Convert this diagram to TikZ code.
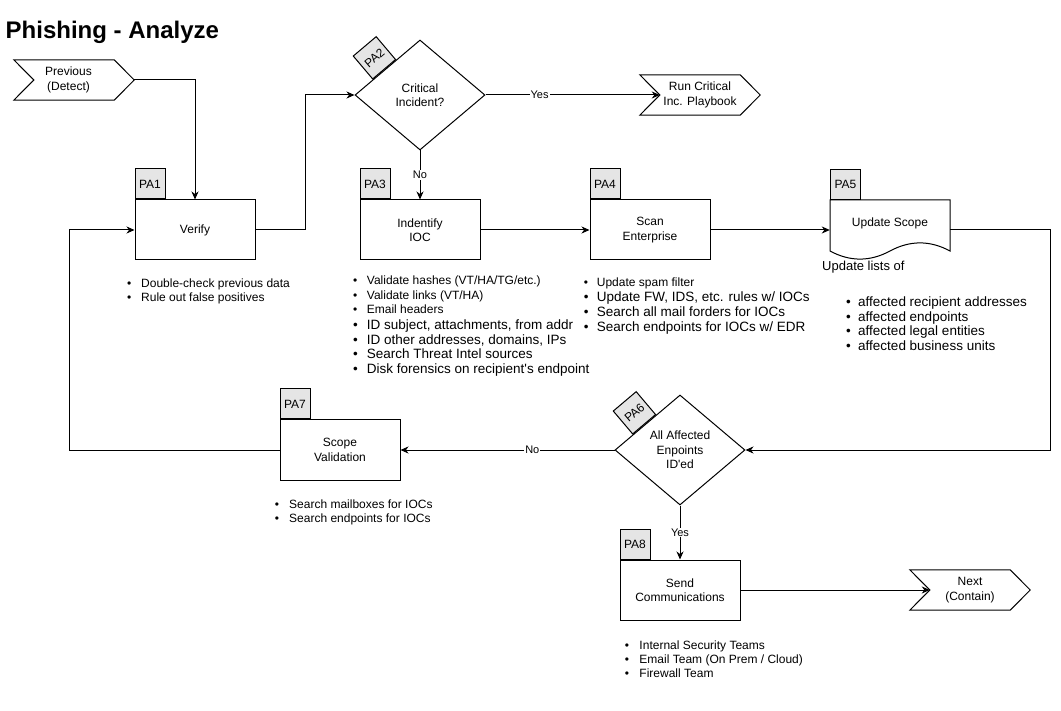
\documentclass[tikz,border=0pt]{standalone}
\usepackage{fontspec}
\setmainfont{Liberation Sans}[Ligatures=TeXOff]
\usetikzlibrary{arrows.meta,calc,shapes.geometric}

\newcommand\lblfont{\fontsize{12}{14.4}\selectfont}
\newcommand\edgefont{\fontsize{11}{13}\selectfont}
\newcommand\fsm{\fontsize{12}{14}\selectfont}
\newcommand\fbg{\fontsize{13.5}{15}\selectfont}
\newcommand\bitem[2]{\makebox[#1pt][l]{\kern-2.1pt\textbullet}#2}

\begin{document}
\begin{tikzpicture}[x=1pt,y=-1pt,
  line/.style={draw=black, line width=1pt},
  arr/.style={draw=black, line width=1pt, -{Stealth[length=8pt,width=7pt,inset=2.5pt]}},
  box/.style={line, rectangle, minimum width=120pt, minimum height=60pt, inner sep=0pt, align=center, font=\lblfont},
  tagbox/.style={line, fill=black!10, minimum width=30pt, minimum height=30pt, inner sep=0pt, font=\lblfont},
  decision/.style={line, diamond, minimum width=130pt, minimum height=110pt, inner sep=0pt, align=center, font=\lblfont},
  stepbox/.style={minimum width=120pt, minimum height=40pt, inner sep=0pt, align=center, font=\lblfont},
  docbox/.style={minimum width=120pt, minimum height=60pt, inner sep=0pt},
  edgelbl/.style={fill=white, inner sep=1pt, font=\edgefont},
  listbox/.style={anchor=base west, inner sep=0pt},
]
\useasboundingbox[fill=white] (0,0) rectangle (1061,711);

% title
\node[anchor=base west, inner sep=0pt, font=\bfseries\fontsize{24}{28}\selectfont] (title) at (5.5,38.3) {Phishing - Analyze};

% main nodes
\node[stepbox] (prev) at (74,80) {\hspace*{-11pt}Previous\\\hspace*{-11pt}(Detect)};
\node[box] (verify) at (195,230) {Verify};
\node[decision] (d2) at (420,95) {Critical\\Incident?};
\node[stepbox] (crit) at (700,95) {Run Critical\\Inc. Playbook};
\node[box] (pa3) at (420,230) {Indentify\\IOC};
\node[box] (pa4) at (650,230) {Scan\\Enterprise};
\node[docbox] (pa5) at (890,230) {};
\node[font=\lblfont, inner sep=0pt] (pa5t) at (890,223) {Update Scope};
\node[decision] (d6) at (680,450) {All Affected\\Enpoints\\ID'ed};
\node[box] (pa7) at (340,450) {Scope\\Validation};
\node[box] (pa8) at (680,590) {Send\\Communications};
\node[stepbox] (next) at (970,590) {Next\\(Contain)};

% step outlines
\foreach \n in {prev,crit,next} {
  \draw[line] (\n.north west) -- ([xshift=-20pt]\n.north east) -- (\n.east)
    -- ([xshift=-20pt]\n.south east) -- (\n.south west) -- ([xshift=20pt]\n.west) -- cycle;
}
\coordinate (critin) at ([xshift=20pt]crit.west);
\coordinate (nextin) at ([xshift=20pt]next.west);

% document outline
\draw[line] (830,200) -- (950,200) -- (950,251)
  .. controls (930,240.2) and (910,240.2) .. (890,251)
  .. controls (870,261.8) and (850,261.8) .. (830,251) -- cycle;

% tags
\node[tagbox, anchor=south west] (t1) at (verify.north west) {PA1};
\node[tagbox, anchor=south west] (t3) at (pa3.north west) {PA3};
\node[tagbox, anchor=south west] (t4) at (pa4.north west) {PA4};
\node[tagbox, anchor=south west] (t5) at (830,200) {PA5};
\node[tagbox, anchor=south west] (t7) at (pa7.north west) {PA7};
\node[tagbox, anchor=south west] (t8) at (pa8.north west) {PA8};
\node[tagbox, rotate=40.24, anchor=south] (t2) at ($(d2.west)!0.457!(d2.north)$) {PA2};
\node[tagbox, rotate=40.24, anchor=south] (t6) at ($(d6.west)!0.457!(d6.north)$) {PA6};

% connectors
\draw[arr] (prev.east) -| (verify.north);
\draw[arr] (verify.east) -- ++(50,0) |- (d2.west);
\draw[arr] (d2.east) -- (critin) node[edgelbl, pos=0.31] {Yes};
\draw[arr] (d2.south) -- (pa3.north) node[edgelbl, midway] {No};
\draw[arr] (pa3.east) -- (pa4.west);
\draw[arr] (pa4.east) -- (pa5.west);
\draw[arr] (pa5.east) -- ++(100,0) |- (d6.east);
\draw[arr] (d6.west) -- (pa7.east) node[edgelbl, pos=0.384] {No};
\draw[arr] (pa7.west) -- ++(-210,0) |- (verify.west);
\draw[arr] (d6.south) -- (pa8.north) node[edgelbl, midway] {Yes};
\draw[arr] (pa8.east) -- (nextin);

% bullet lists
\node[listbox] (l1) at (129,287.5) {\fsm\begin{tabular}[t]{@{}l@{}}
\bitem{12}{Double-check previous data}\\
\bitem{12}{Rule out false positives}
\end{tabular}};

\node[listbox] (l3) at (355,285) {\fontsize{12}{14.2}\selectfont\begin{tabular}[t]{@{}l@{}}
\bitem{11.7}{Validate hashes (VT/HA/TG/etc.)}\\
\bitem{11.7}{Validate links (VT/HA)}\\
\bitem{11.7}{Email headers}\\[1.8pt]
\fbg\bitem{11.7}{ID subject, attachments, from addr}\\[0.5pt]
\fbg\bitem{11.7}{ID other addresses, domains, IPs}\\[0.5pt]
\fbg\bitem{11.7}{Search Threat Intel sources}\\[0.5pt]
\fbg\bitem{11.7}{Disk forensics on recipient's endpoint}
\end{tabular}};

\node[listbox] (l4) at (585.7,286.7) {\fbg\begin{tabular}[t]{@{}l@{}}
\fsm\bitem{11}{Update spam filter}\\
\bitem{11}{Update FW, IDS, etc. rules w/ IOCs}\\
\bitem{11}{Search all mail forders for IOCs}\\
\bitem{11}{Search endpoints for IOCs w/ EDR}
\end{tabular}};

\node[listbox, font=\fontsize{13}{15}\selectfont] (l5h) at (822,270.5) {Update lists of};
\node[listbox] (l5) at (848,306.5) {\fontsize{13.5}{14.7}\selectfont\begin{tabular}[t]{@{}l@{}}
\bitem{10}{affected recipient addresses}\\
\bitem{10}{affected endpoints}\\
\bitem{10}{affected legal entities}\\
\bitem{10}{affected business units}
\end{tabular}};

\node[listbox] (l7) at (276.7,508.3) {\fontsize{12}{13.7}\selectfont\begin{tabular}[t]{@{}l@{}}
\bitem{12.3}{Search mailboxes for IOCs}\\
\bitem{12.3}{Search endpoints for IOCs}
\end{tabular}};

\node[listbox] (l8) at (626.7,649.3) {\fontsize{12}{13.9}\selectfont\begin{tabular}[t]{@{}l@{}}
\bitem{12.6}{Internal Security Teams}\\
\bitem{12.6}{Email Team (On Prem / Cloud)}\\
\bitem{12.6}{Firewall Team}
\end{tabular}};

\end{tikzpicture}
\end{document}
